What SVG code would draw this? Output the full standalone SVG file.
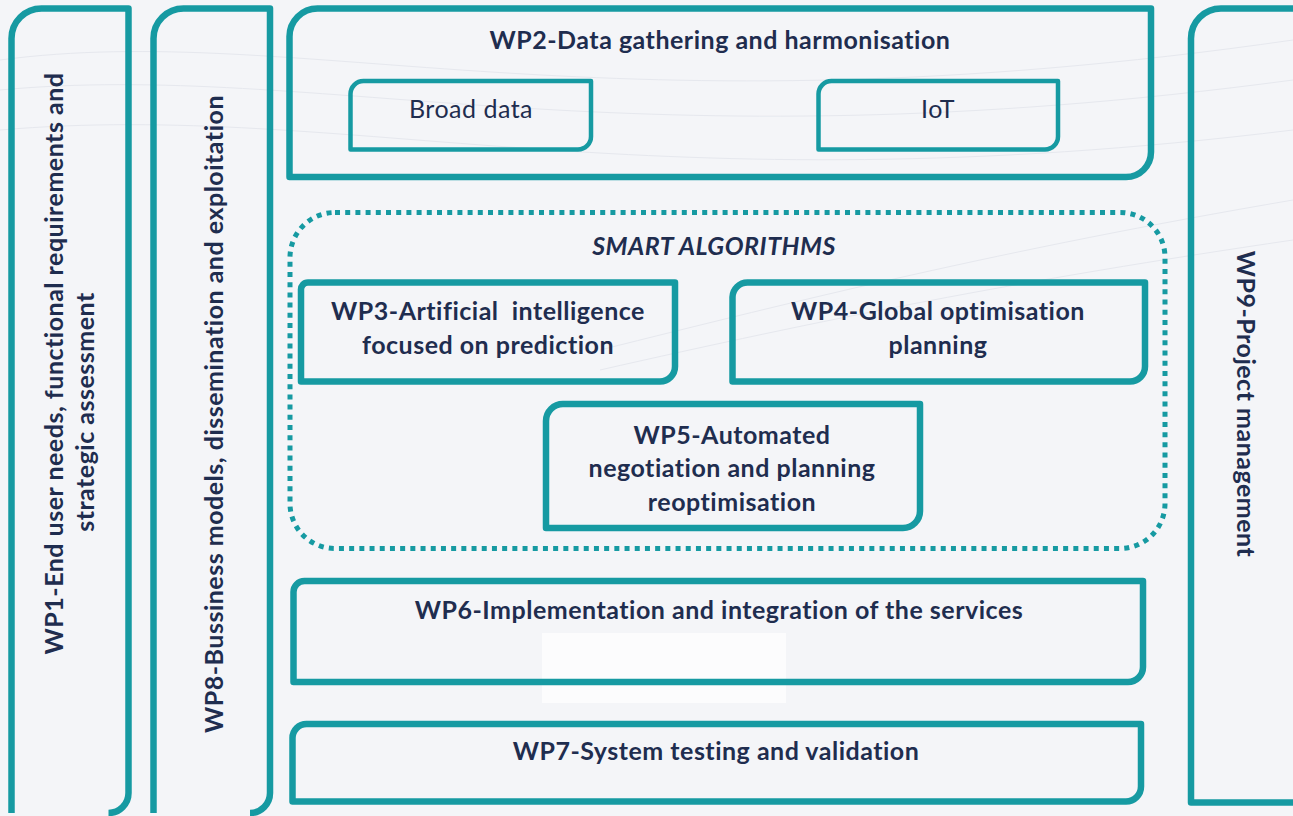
<svg xmlns="http://www.w3.org/2000/svg" width="1293" height="816" viewBox="0 0 1293 816">
<style>
.box{fill:none;stroke:#169aa2;stroke-width:6.5;stroke-linejoin:round}
.sub{fill:none;stroke:#169aa2;stroke-width:4.5;stroke-linejoin:round}
.dot{fill:none;stroke:#169aa2;stroke-width:5;stroke-dasharray:5 5.2}
.t{font-family:Lato,"Open Sans",sans-serif;font-weight:bold;font-size:25px;letter-spacing:0.5px;fill:#1f2d4f;text-anchor:middle}
.r{font-family:Lato,"Open Sans",sans-serif;font-size:25px;letter-spacing:0.5px;fill:#1f2d4f;text-anchor:middle}
.wave{fill:none;stroke:#e6e8ee;stroke-width:1}
</style>
<rect x="0" y="0" width="1293" height="816" fill="#f4f5f8"/>
<g id="background">
<path class="wave" d="M0 60 C300 20 600 140 1293 40"/>
<path class="wave" d="M0 90 C320 60 620 170 1293 80"/>
<path class="wave" d="M0 130 C350 100 640 210 1293 130"/>
<path class="wave" d="M600 350 C800 300 1000 250 1293 200"/>
<path class="wave" d="M600 370 C820 320 1020 280 1293 240"/>
<rect x="542" y="633" width="244" height="70" fill="#fcfcfd"/>
</g>
<g id="connectors"></g>
<g id="wp1">
<path class="box" d="M11.5 813 V38.5 A30 30 0 0 1 41.5 8.5 H128.5 V793 A20 20 0 0 1 108.5 813"/>
<text class="t" transform="translate(63,363.5) rotate(-90)">WP1-End user needs, functional requirements and</text>
<text class="t" transform="translate(94,412) rotate(-90)">strategic assessment</text>
</g>
<g id="wp8">
<path class="box" d="M153.5 813 V38.5 A30 30 0 0 1 183.5 8.5 H270 V793 A20 20 0 0 1 250 813"/>
<text class="t" transform="translate(223,414) rotate(-90)">WP8-Bussiness models, dissemination and exploitation</text>
</g>
<g id="wp2">
<path class="box" d="M289.5 177 V36.5 A28 28 0 0 1 317.5 8.5 H1151 V152 A25 25 0 0 1 1126 177 Z"/>
<text class="t" x="720" y="49">WP2-Data gathering and harmonisation</text>
</g>
<g id="broad-data">
<path class="sub" d="M350.5 149.5 V94 A13 13 0 0 1 363.5 81 H591 V136.5 A13 13 0 0 1 578 149.5 Z"/>
<text class="r" x="471" y="118">Broad data</text>
</g>
<g id="iot">
<path class="sub" d="M818.5 149.5 V94 A13 13 0 0 1 831.5 81 H1058 V136.5 A13 13 0 0 1 1045 149.5 Z"/>
<text class="r" x="938" y="118">IoT</text>
</g>
<g id="smart-algorithms">
<rect class="dot" x="290" y="212.5" width="875" height="336" rx="45" ry="45"/>
<text class="t" x="714" y="255" font-style="italic">SMART ALGORITHMS</text>
</g>
<g id="wp3">
<path class="box" d="M301 381.5 V290 A7 7 0 0 1 308 282.5 H675 V366.5 A15 15 0 0 1 660 381.5 Z"/>
<text class="t" x="488" y="320" style="white-space:pre" xml:space="preserve">WP3-Artificial  intelligence</text>
<text class="t" x="488" y="354">focused on prediction</text>
</g>
<g id="wp4">
<path class="box" d="M732.5 381.5 V297 A15 15 0 0 1 747.5 282.5 H1145 V366.5 A15 15 0 0 1 1130 381.5 Z"/>
<text class="t" x="938" y="320">WP4-Global optimisation</text>
<text class="t" x="938" y="354">planning</text>
</g>
<g id="wp5">
<path class="box" d="M546 528 V421 A17 17 0 0 1 563 404 H920 V511 A17 17 0 0 1 903 528 Z"/>
<text class="t" x="732" y="444">WP5-Automated</text>
<text class="t" x="732" y="477">negotiation and planning</text>
<text class="t" x="732" y="511">reoptimisation</text>
</g>
<g id="wp6">
<path class="box" d="M293.5 682 V592 A11 11 0 0 1 304.5 581 H1143 V667 A15 15 0 0 1 1128 682 Z"/>
<text class="t" x="719" y="619">WP6-Implementation and integration of the services</text>
</g>
<g id="wp7">
<path class="box" d="M292.5 801.5 V738 A14 14 0 0 1 306.5 724 H1141 V786.5 A15 15 0 0 1 1126 801.5 Z"/>
<text class="t" x="716" y="760">WP7-System testing and validation</text>
</g>
<g id="wp9">
<path class="box" d="M1300 802.5 H1191 V38.5 A30 30 0 0 1 1221 8.5 H1300"/>
<text class="t" transform="translate(1237,404) rotate(90)">WP9-Project management</text>
</g>
</svg>
